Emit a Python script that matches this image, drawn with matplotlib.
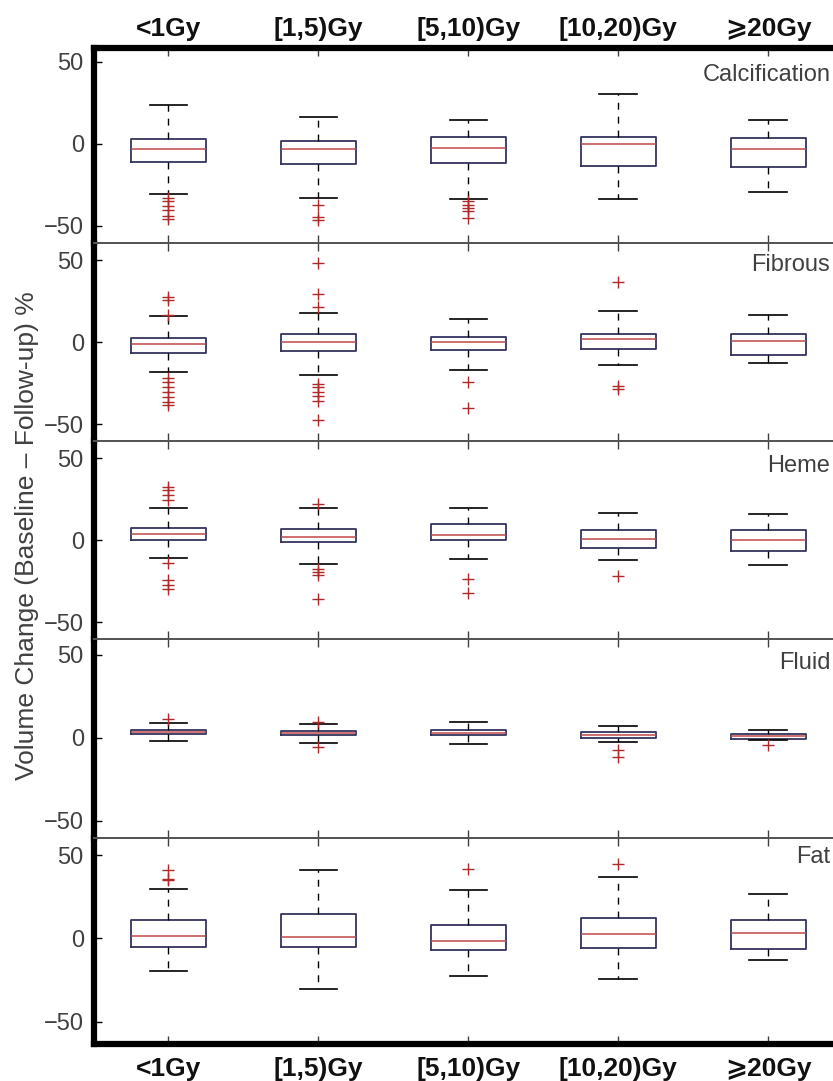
import numpy as np
import matplotlib
matplotlib.use('Agg')
import matplotlib.pyplot as plt

plt.rcParams['font.family'] = ['Liberation Sans', 'DejaVu Sans']

categories = ['<1Gy', '[1,5)Gy', '[5,10)Gy', '[10,20)Gy', '⩾20Gy']
tissues = ['Calcification', 'Fibrous', 'Heme', 'Fluid', 'Fat']

# rows = tissues, columns = dose groups
whis_lo = [[-30.7, -32.7, -33.5, -33.5, -29.3],
           [-18.0, -20.0, -17.0, -14.2, -12.8],
           [-11.0, -14.4, -11.6, -12.2, -15.2],
           [-2.2, -3.2, -3.5, -2.8, -1.2],
           [-19.7, -30.3, -22.7, -24.6, -13.2]]
q1 = [[-10.8, -12.2, -11.4, -13.4, -14.2],
      [-6.3, -5.3, -4.7, -4.0, -8.0],
      [0.4, -1.4, -0.2, -4.5, -6.5],
      [2.0, 1.4, 1.4, -0.2, -0.6],
      [-4.9, -4.9, -6.9, -5.5, -6.3]]
med = [[-3.0, -3.3, -2.6, 0.0, -3.0],
       [-1.2, -0.2, 0.4, 1.9, 1.0],
       [4.0, 2.0, 3.3, 0.6, -0.2],
       [3.3, 2.8, 3.0, 1.6, 1.0],
       [1.6, 1.0, -1.6, 2.6, 3.2]]
q3 = [[2.8, 2.0, 4.5, 4.5, 3.9],
      [2.8, 4.9, 3.4, 4.9, 4.9],
      [7.5, 6.7, 9.8, 6.3, 6.3],
      [4.7, 4.0, 4.7, 3.4, 2.3],
      [10.8, 14.5, 8.1, 12.2, 10.8]]
whis_hi = [[23.8, 16.3, 14.6, 30.7, 14.6],
           [15.7, 18.0, 14.2, 18.9, 16.5],
           [19.7, 19.7, 19.7, 16.3, 15.7],
           [9.0, 8.4, 9.6, 7.0, 4.7],
           [29.5, 40.9, 28.9, 36.6, 26.8]]
outliers = [
    [[-33, -35, -38, -40, -44, -46], [-37.2, -44.3, -46.3], [-35, -37, -39, -41, -45], [], []],
    [[27.8, 25.8, 16.3, -21.8, -24.2, -27.2, -30.3, -33.4, -36.4, -38],
     [48.5, 29.5, 21.7, -25.2, -27.3, -30.3, -32.9, -35.8, -47.5],
     [-24, -40.4], [36.6, -26.6, -28.6], []],
    [[32.5, 30.5, 27.4, 24.4, -14.2, -24.4, -27.4, -30], [22, -17.3, -19.3, -21.3, -36.2],
     [-23.4, -32.1], [-21.8], []],
    [[11.4], [9.8, -5.6], [], [-7.1, -11.6], [-4.3]],
    [[41.3, 35.8, 34.8], [], [41.5], [44.9], []],
]

W, H = 833, 1081
fig = plt.figure(figsize=(W / 100, H / 100), dpi=100)

left_px, right_px = 93.5, 843
edges_px = [48, 243, 441, 639, 838, 1043.5]
ylims = [(-60.4, 58.5), (-60.2, 60.4), (-60.3, 60.5), (-60.5, 59.6), (-63.0, 60.2)]
label_dy = [27, 22, 25, 24, 19]

box_col = '#34345e'
med_col = '#c04848'
out_col = '#b02828'
gray = '#404040'

axes = []
for k in range(5):
    top, bot = edges_px[k], edges_px[k + 1]
    ax = fig.add_axes([left_px / W, 1 - bot / H, (right_px - left_px) / W, (bot - top) / H])
    axes.append(ax)
    stats = []
    for j in range(5):
        stats.append(dict(med=med[k][j], q1=q1[k][j], q3=q3[k][j],
                          whislo=whis_lo[k][j], whishi=whis_hi[k][j],
                          fliers=outliers[k][j]))
    ax.bxp(stats, positions=np.arange(1, 6), widths=0.5, showfliers=True,
           boxprops=dict(color=box_col, linewidth=1.3),
           medianprops=dict(color=med_col, linewidth=1.1),
           whiskerprops=dict(color='black', linewidth=1.0, linestyle=(0, (5, 5))),
           capprops=dict(color='black', linewidth=1.2),
           flierprops=dict(marker='+', markeredgecolor=out_col, markersize=8,
                           markeredgewidth=1.0, linestyle='none'))
    ax.set_xlim(0.5, 5.5)
    ax.set_ylim(*ylims[k])
    ax.set_yticks([-50, 0, 50])
    ax.set_yticklabels(['−50', '0', '50'])
    ax.tick_params(axis='y', direction='in', length=6, width=1, colors='black',
                   labelcolor=gray, labelsize=17, pad=7, right=False)
    ax.tick_params(axis='x', direction='in', length=6, width=1, color=gray,
                   top=True, bottom=True, labelbottom=False, labeltop=False)
    ax.set_xticks(np.arange(1, 6))
    for s in ['top', 'bottom']:
        ax.spines[s].set_color('#555555')
        ax.spines[s].set_linewidth(1.4)
    ax.spines['right'].set_visible(False)
    ax.spines['left'].set_linewidth(4.5)
    ax.spines['left'].set_color('black')
    ax.patch.set_alpha(0)
    h = bot - top
    ax.text(0.983, 1 - label_dy[k] / h, tissues[k], transform=ax.transAxes,
            ha='right', va='center', fontsize=17, color=gray)

axes[0].spines['top'].set_linewidth(4.5)
axes[0].spines['top'].set_color('black')
axes[-1].spines['bottom'].set_linewidth(4.5)
axes[-1].spines['bottom'].set_color('black')

axes[0].tick_params(axis='x', labeltop=True, pad=5)
axes[0].set_xticklabels(categories, fontsize=19, fontweight='bold', color='#111111')
axes[-1].tick_params(axis='x', labelbottom=True, pad=10)
axes[-1].set_xticklabels(categories, fontsize=19, fontweight='bold', color='#111111')

fig.text(27 / W, 1 - 536 / H, 'Volume Change (Baseline – Follow-up) %',
         rotation=90, ha='center', va='center', fontsize=19, color=gray)

fig.savefig('out.png', dpi=100)
